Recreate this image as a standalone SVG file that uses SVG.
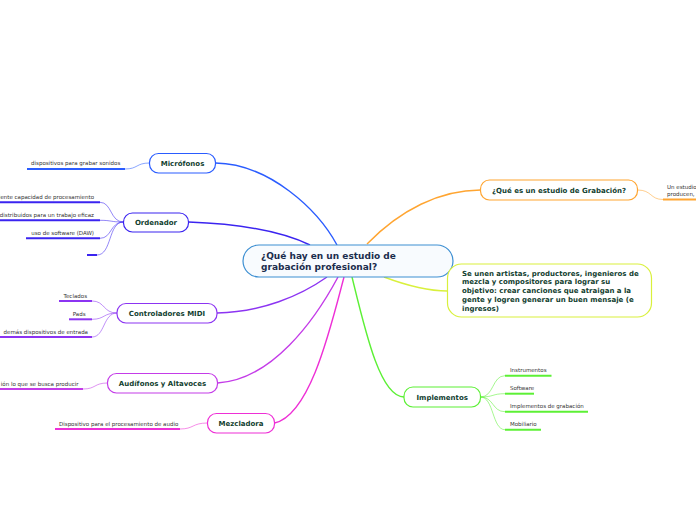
<svg xmlns="http://www.w3.org/2000/svg" width="696" height="520" viewBox="0 0 696 520">
<style>
.bg{fill:#ffffff}
.node{fill:#ffffff;stroke-width:1.2}
.lbl{font-family:"DejaVu Sans",Verdana,sans-serif;font-size:7px;font-weight:bold;fill:#12402f;text-anchor:middle}
.ctr{font-family:"DejaVu Sans",Verdana,sans-serif;font-size:9px;font-weight:bold;fill:#1b2d4d}
.txt{font-family:"DejaVu Sans",Verdana,sans-serif;font-size:7px;font-weight:bold;fill:#12402f}
.sm{font-family:"DejaVu Sans",Verdana,sans-serif;font-size:5.5px;fill:#333333}
.smr{font-family:"DejaVu Sans",Verdana,sans-serif;font-size:5.5px;fill:#333333;text-anchor:end}
.main{fill:none;stroke-width:1.4}
.sub{fill:none;stroke-width:1;stroke-opacity:0.55}
.ul{fill:none;stroke-width:2}
</style>
<rect class="bg" x="0" y="0" width="696" height="520"/>
<g id="connectors">
<path class="main" stroke="#2a5cff" d="M215.5,163 C270,164 318,210 337,245"/>
<path class="main" stroke="#3b24f0" d="M188.5,222 C245,224 285,233 310,245"/>
<path class="main" stroke="#8c34f2" d="M217,313 C262,312 300,296 327,277"/>
<path class="main" stroke="#c43ce8" d="M217.5,383 C272,380 315,320 338,277"/>
<path class="main" stroke="#ee2fd6" d="M274.5,423 C310,415 330,330 344,277"/>
<path class="main" stroke="#5cf035" d="M352,277 C365,330 380,397 404,397"/>
<path class="main" stroke="#d9f03c" d="M384,277 C408,286 428,291 447.5,291"/>
<path class="main" stroke="#ffa531" d="M367,244 C400,210 440,190 480.5,190"/>
<path class="sub" stroke="#2a5cff" d="M125,169 C138,169 136,163 149.5,163"/>
<path class="sub" stroke="#3b24f0" d="M100,202.3 C112,202.3 110,222 123.5,222"/>
<path class="sub" stroke="#3b24f0" d="M100,220.3 C112,220.3 110,222 123.5,222"/>
<path class="sub" stroke="#3b24f0" d="M100,238.3 C112,238.3 110,222 123.5,222"/>
<path class="sub" stroke="#3b24f0" d="M97,255 C112,255 108,222 123.5,222"/>
<path class="sub" stroke="#8c34f2" d="M92,301 C105,301 103,313 117,313"/>
<path class="sub" stroke="#8c34f2" d="M92,319.3 C105,319.3 103,313 117,313"/>
<path class="sub" stroke="#8c34f2" d="M92,337 C105,337 103,313 117,313"/>
<path class="sub" stroke="#c43ce8" d="M83,389 C96,389 94,383 107.5,383"/>
<path class="sub" stroke="#ee2fd6" d="M180,429 C194,429 192,423 207.5,423"/>
<path class="sub" stroke="#5cf035" d="M480.5,397 C494,397 492,375.7 505,375.7"/>
<path class="sub" stroke="#5cf035" d="M480.5,397 C494,397 492,393.7 505,393.7"/>
<path class="sub" stroke="#5cf035" d="M480.5,397 C494,397 492,411.7 505,411.7"/>
<path class="sub" stroke="#5cf035" d="M480.5,397 C494,397 492,429.7 505,429.7"/>
<path class="sub" stroke="#ffa531" d="M637.5,190 C652,190 650,199.5 663,199.5"/>
</g>
<g id="center">
<rect x="243" y="245" width="210" height="32" rx="16" fill="#f8fbfe" stroke="#3d8fd2" stroke-width="1.2"/>
<text class="ctr" x="261" y="258.5">¿Qué hay en un estudio de</text>
<text class="ctr" x="261" y="270">grabación profesional?</text>
</g>
<g id="microfonos">
<rect class="node" x="149.5" y="153.5" width="66" height="19.5" rx="9" stroke="#2a5cff"/>
<text class="lbl" x="182.5" y="165.7">Micrófonos</text>
<line class="ul" x1="27" y1="169" x2="125" y2="169" stroke="#2a5cff"/>
<text class="sm" x="31" y="165">dispositivos para grabar sonidos</text>
</g>
<g id="ordenador">
<rect class="node" x="123.5" y="213" width="65" height="19" rx="9" stroke="#3b24f0"/>
<text class="lbl" x="156" y="225">Ordenador</text>
<line class="ul" x1="0" y1="202.3" x2="100" y2="202.3" stroke="#3b24f0"/>
<text class="smr" x="94" y="199">iente capacidad de procesamiento</text>
<line class="ul" x1="0" y1="220.3" x2="100" y2="220.3" stroke="#3b24f0"/>
<text class="smr" x="94" y="217">distribuidos para un trabajo eficaz</text>
<line class="ul" x1="26" y1="238.3" x2="100" y2="238.3" stroke="#3b24f0"/>
<text class="smr" x="94" y="235">uso de software (DAW)</text>
<line class="ul" x1="87" y1="255" x2="97" y2="255" stroke="#3b24f0"/>
</g>
<g id="midi">
<rect class="node" x="117" y="303.5" width="100" height="19.5" rx="9" stroke="#8c34f2"/>
<text class="lbl" x="167" y="315.7">Controladores MIDI</text>
<line class="ul" x1="59" y1="301" x2="92" y2="301" stroke="#8c34f2"/>
<text class="smr" x="87" y="297.7">Teclados</text>
<line class="ul" x1="69" y1="319.3" x2="92" y2="319.3" stroke="#8c34f2"/>
<text class="smr" x="85.5" y="316">Pads</text>
<line class="ul" x1="0" y1="337" x2="92" y2="337" stroke="#8c34f2"/>
<text class="smr" x="88" y="333.7">demás dispositivos de entrada</text>
</g>
<g id="audifonos">
<rect class="node" x="107.5" y="373.5" width="110" height="19.5" rx="9" stroke="#c43ce8"/>
<text class="lbl" x="162.5" y="385.7">Audífonos y Altavoces</text>
<line class="ul" x1="0" y1="389" x2="83" y2="389" stroke="#c43ce8"/>
<text class="smr" x="78.5" y="385.7">ión lo que se busca producir</text>
</g>
<g id="mezcladora">
<rect class="node" x="207.5" y="413.5" width="67" height="19.5" rx="9" stroke="#ee2fd6"/>
<text class="lbl" x="241" y="425.7">Mezcladora</text>
<line class="ul" x1="55" y1="429" x2="180" y2="429" stroke="#ee2fd6"/>
<text class="sm" x="59" y="425.7">Dispositivo para el procesamiento de audio</text>
</g>
<g id="implementos">
<rect class="node" x="404" y="387" width="76.5" height="20" rx="9" stroke="#5cf035"/>
<text class="lbl" x="442.2" y="399.5">Implementos</text>
<line class="ul" x1="505" y1="375.7" x2="551.5" y2="375.7" stroke="#5cf035"/>
<text class="sm" x="510" y="371.5">Instrumentos</text>
<line class="ul" x1="505" y1="393.7" x2="534" y2="393.7" stroke="#5cf035"/>
<text class="sm" x="510" y="389.5">Software</text>
<line class="ul" x1="505" y1="411.7" x2="588" y2="411.7" stroke="#5cf035"/>
<text class="sm" x="510" y="407.5">Implementos de grabación</text>
<line class="ul" x1="505" y1="429.7" x2="541" y2="429.7" stroke="#5cf035"/>
<text class="sm" x="510" y="425.5">Mobiliario</text>
</g>
<g id="descripcion">
<rect class="node" x="447.5" y="264" width="204" height="53" rx="14" stroke="#d9f03c"/>
<text class="txt" x="462" y="275.5">Se unen artistas, productores, ingenieros de</text>
<text class="txt" x="462" y="284.3">mezcla y compositores para lograr su</text>
<text class="txt" x="462" y="293">objetivo: crear canciones que atraigan a la</text>
<text class="txt" x="462" y="301.8">gente y logren generar un buen mensaje (e</text>
<text class="txt" x="462" y="310.5">ingresos)</text>
</g>
<g id="que-es">
<rect class="node" x="480.5" y="180" width="157" height="20" rx="9" stroke="#ffa531"/>
<text class="lbl" x="559" y="192.5">¿Qué es un estudio de Grabación?</text>
<line class="ul" x1="663" y1="199.5" x2="696" y2="199.5" stroke="#ffa531"/>
<text class="sm" x="667" y="189">Un estudio</text>
<text class="sm" x="667" y="196">producen,</text>
</g>
</svg>
